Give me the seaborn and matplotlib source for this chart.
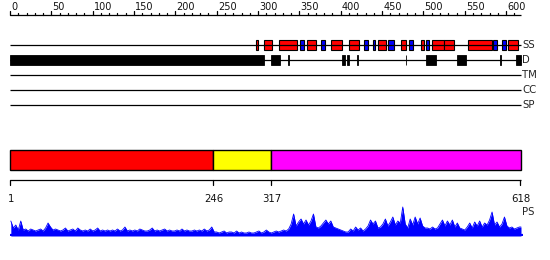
import matplotlib
matplotlib.use("Agg")
import matplotlib.pyplot as plt
import seaborn as sns
import numpy as np
import pandas as pd

sns.set_theme(style="white")
plt.rcParams['font.family'] = ['DejaVu Sans']

# ---------------- data ----------------
seq_len = 618
ruler_major = list(range(0, 601, 50))
ruler_minor = list(range(0, 611, 10))

track_names = ["SS", "D", "TM", "CC", "SP"]

ss_helix = [(297.5, 300), (307.5, 317), (325.7, 347.4), (359.2, 370), (388.2, 401.1),
            (409.6, 422.4), (444.7, 454.3), (472.5, 478.9), (496.7, 500.7),
            (510.3, 524.8), (524.8, 537), (553.5, 582.5), (602.2, 614)]
ss_strand = [(350.7, 355.5), (376.1, 380.9), (428.5, 433.3), (438.6, 441), (457.1, 464.4),
             (482.5, 487.4), (502.7, 506.7), (583.7, 588.6), (594.6, 599.8)]
disorder = [(0, 307.5), (315.3, 326.5), (336, 337), (401.5, 405.5), (407.2, 409.6),
            (419.5, 420.5), (478.5, 479.5), (502.7, 515.2), (541, 551.4),
            (593, 594), (612, 618)]

domain_starts = [1, 246, 317]
domain_ends = [245, 316, 618]
domain_colors = ["#ff0000", "#ffff00", "#ff00ff"]
domain_ticks = [1, 246, 317, 618]

ps_step = 3
ps_values = [15, 8, 11, 6, 15, 6, 7, 5, 7, 6, 5, 6, 7, 5, 8, 13, 9, 6, 7, 6,
             5, 6, 8, 5, 6, 7, 5, 8, 6, 5, 6, 5, 7, 5, 6, 8, 5, 6, 5, 6,
             5, 6, 5, 7, 5, 6, 9, 5, 6, 5, 6, 5, 7, 6, 5, 5, 6, 8, 5, 6,
             5, 6, 7, 5, 6, 5, 5, 6, 5, 7, 5, 6, 5, 5, 6, 5, 6, 5, 7, 5,
             6, 9, 4, 4, 3, 4, 5, 3, 4, 4, 3, 5, 3, 4, 3, 3, 4, 3, 3, 4,
             5, 3, 4, 6, 4, 3, 4, 5, 4, 5, 6, 5,
             7, 12, 22, 10, 14, 17, 12, 16, 11, 15, 22, 9, 8, 10, 13, 16, 12, 15,
             9, 8, 7, 6, 5, 4,
             4, 7, 5, 9, 6, 8, 5, 7, 10, 16, 12, 15, 8, 9,
             12, 17, 10, 14, 19, 11, 15, 13, 29, 12, 8,
             17, 11, 19, 12, 18, 10, 8,
             8, 7, 9, 7, 8,
             12, 16, 10, 15, 11, 16, 9, 13, 8, 7,
             6, 9, 13, 8, 14, 10, 15, 9, 13, 11, 16,
             24, 11, 14, 9, 12, 19, 10, 8, 9, 7, 8, 9]

# ---------------- layout ----------------
W, H = 550, 260
s = 511 / seq_len  # pixels per residue
fig = plt.figure(figsize=(W / 100, H / 100), dpi=100)
ax = fig.add_axes([0, 0, 1, 1])
ax.set_xlim(-10 / s, (W - 10) / s)
ax.set_ylim(H, 0)
ax.axis("off")

px = 1 / s  # one pixel in data units

# top ruler
ax.plot([0, seq_len], [15, 15], color="black", lw=0.9, solid_capstyle="butt")
for t in ruler_minor:
    top = 10.5 if t % 50 == 0 else 12.5
    ax.plot([t, t], [15, top], color="black", lw=0.9)
for t in ruler_major:
    ax.text(t + 1.2 * px, 9.8, str(t), fontsize=7, ha="left", va="baseline", color="#111111")

# tracks
track_y = [45, 60, 75, 90, 105]
for name, y in zip(track_names, track_y):
    ax.plot([0, seq_len], [y, y], color="black", lw=0.9, solid_capstyle="butt")
    ax.text(seq_len + 1 * px, y, name, fontsize=7.3, ha="left", va="center", color="#222222")

bh = 10
for a, b in ss_helix:
    ax.add_patch(plt.Rectangle((a, 45 - bh / 2), b - a, bh, facecolor="#ff0000",
                               edgecolor="black", lw=0.8))
for a, b in ss_strand:
    ax.add_patch(plt.Rectangle((a, 45 - bh / 2), b - a, bh, facecolor="#0000ff",
                               edgecolor="black", lw=0.8))
for a, b in disorder:
    ax.add_patch(plt.Rectangle((a, 60 - bh / 2), b - a, bh, facecolor="black",
                               edgecolor="black", lw=0.6))

# domain bar
for st, en, c in zip(domain_starts, domain_ends, domain_colors):
    ax.add_patch(plt.Rectangle((st - 1, 150), en - st + 1, 20, facecolor=c,
                               edgecolor="black", lw=1.0))

# bottom ruler
ax.plot([0, seq_len], [180, 180], color="black", lw=0.9, solid_capstyle="butt")
for t in domain_ticks:
    ax.plot([t - 1, t - 1], [180, 185], color="black", lw=0.9)
    ax.text(t - 1 + 1 * px, 202, str(t), fontsize=7.3, ha="center", va="baseline", color="#111111")

ax.text(seq_len + 1 * px, 215, "PS", fontsize=7.3, ha="left", va="baseline", color="#222222")

# PS profile
ps_ax = fig.add_axes([10 / W, 24 / H, 513 / W, 32 / H])
ps_x = [ps_step * i + 1 for i in range(len(ps_values))]
ps_df = pd.DataFrame({"pos": ps_x + [seq_len], "val": ps_values + [ps_values[-1]]})
ps_ax.fill_between(ps_df["pos"], 0, ps_df["val"], color="#0000ff", lw=0)
sns.lineplot(data=ps_df, x="pos", y="val", ax=ps_ax, color="#0000ff", lw=0.6)
ps_ax.plot([0, seq_len + 4], [0.6, 0.6], color="#0000ff", lw=1.6)
ps_ax.set_xlim(0, seq_len * 513 / 511)
ps_ax.set_ylim(0, 32)
ps_ax.axis("off")

fig.savefig("out.png", dpi=100)
